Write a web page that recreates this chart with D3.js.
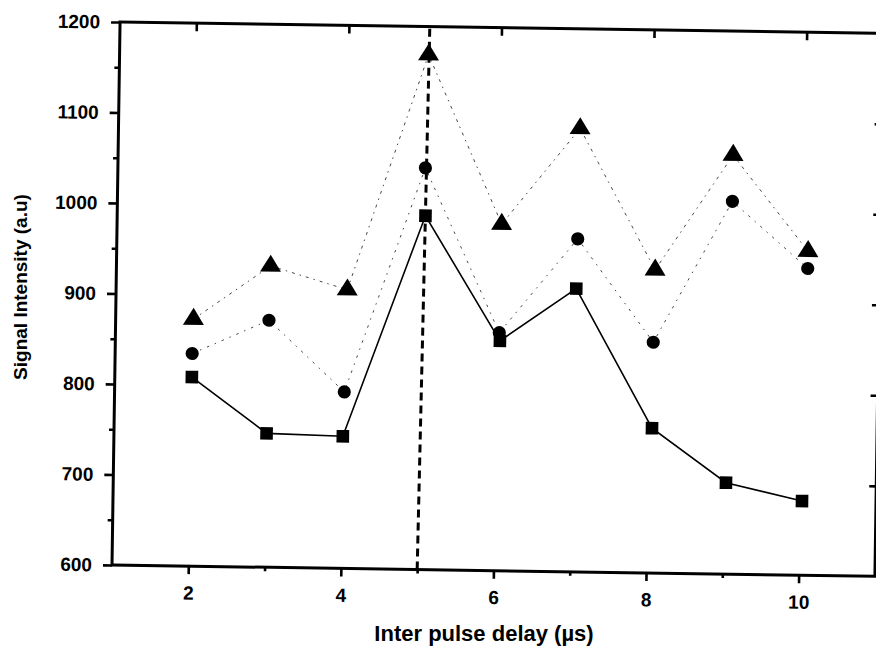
<!DOCTYPE html>
<html>
<head>
<meta charset="utf-8">
<script src="https://cdn.jsdelivr.net/npm/d3@7"></script>
<style>
  html, body { margin: 0; padding: 0; background: #fff; }
  svg { display: block; }
  text { font-family: "Liberation Sans", Arial, sans-serif; fill: #000; }
</style>
</head>
<body>
<svg id="chart" width="876" height="654"></svg>
<script>
// Inter pulse delay (µs) vs signal intensity for three emission lines
const squareX   = [2.01, 3.00, 4.00, 5.04, 6.04, 7.03, 8.05, 9.03, 10.03];
const squareY   = [809, 748, 746, 991, 854, 913, 760, 701, 682];
const circleX   = [2.01, 3.01, 4.01, 5.03, 6.03, 7.04, 8.05, 9.06, 10.06];
const circleY   = [835, 873, 795, 1044, 863, 968, 855, 1012, 939];
const triangleX = [2.02, 3.02, 4.03, 5.05, 6.04, 7.05, 8.06, 9.06, 10.06];
const triangleY = [873, 933, 908, 1169, 983, 1090, 935, 1063, 958];

// optimum delay marker (dashed guide)
const guideX = [5.00, 5.06];
const guideY = [600, 1200];

const xDomain = [1, 11];
const yDomain = [600, 1200];
const xTicks = [2, 4, 6, 8, 10];
const xMinorTicks = [3, 5, 7, 9];
const yTicks = [600, 700, 800, 900, 1000, 1100, 1200];
const yMinorTicks = [650, 750, 850, 950, 1050, 1150];

const W = 763, H = 543;
const tilt = 0.85;

const svg = d3.select("#chart");
const g = svg.append("g")
  .attr("transform", `translate(112,565) rotate(${tilt}) translate(0,${-H})`);

const x = d3.scaleLinear().domain(xDomain).range([0, W]);
const y = d3.scaleLinear().domain(yDomain).range([H, 0]);

function styleAxis(sel, labelSize) {
  sel.select(".domain").remove();
  sel.selectAll(".tick line").attr("stroke", "#000").attr("stroke-width", 2.6);
  sel.selectAll(".tick text")
    .style("font-size", labelSize + "px")
    .style("font-weight", "bold")
    .attr("fill", "#000");
}

// minor ticks first so majors draw over them
g.append("g").attr("transform", `translate(0,${H})`)
  .call(d3.axisBottom(x).tickValues(xMinorTicks).tickSize(4).tickFormat(""))
  .call(s => styleAxis(s, 0));
g.append("g")
  .call(d3.axisLeft(y).tickValues(yMinorTicks).tickSize(5).tickFormat(""))
  .call(s => styleAxis(s, 0));

g.append("g").attr("transform", `translate(0,${H})`)
  .call(d3.axisBottom(x).tickValues(xTicks).tickSize(8).tickPadding(12).tickFormat(d3.format("d")))
  .call(s => styleAxis(s, 19));
g.append("g")
  .call(d3.axisLeft(y).tickValues(yTicks).tickSize(9).tickPadding(11).tickFormat(d3.format("d")))
  .call(s => styleAxis(s, 19));
g.append("g")
  .call(d3.axisTop(x).tickValues(xTicks).tickSize(-8).tickFormat(""))
  .call(s => styleAxis(s, 0));
g.append("g").attr("transform", `translate(${W},0)`)
  .call(d3.axisRight(y).tickValues(yTicks.slice(1, -1)).tickSize(-7).tickFormat(""))
  .call(s => styleAxis(s, 0));

// frame
g.append("rect")
  .attr("x", 0).attr("y", 0).attr("width", W).attr("height", H)
  .attr("fill", "none").attr("stroke", "#000").attr("stroke-width", 3);

const zip = (xs, ys) => xs.map((v, i) => [v, ys[i]]);
const line = d3.line().x(d => x(d[0])).y(d => y(d[1]));

const squares = zip(squareX, squareY);
const circles = zip(circleX, circleY);
const triangles = zip(triangleX, triangleY);

// connecting lines (faint dash-dot for the upper two series)
g.append("path").datum(triangles).attr("d", line)
  .attr("fill", "none").attr("stroke", "#333").attr("stroke-width", 0.9)
  .attr("stroke-dasharray", "3,5,1.5,5");
g.append("path").datum(circles).attr("d", line)
  .attr("fill", "none").attr("stroke", "#333").attr("stroke-width", 0.9)
  .attr("stroke-dasharray", "2.5,6,1.5,6");
g.append("path").datum(squares).attr("d", line)
  .attr("fill", "none").attr("stroke", "#000").attr("stroke-width", 1.6);

// dashed guide at the optimum delay
g.append("path").datum(zip(guideX, guideY)).attr("d", line)
  .attr("fill", "none").attr("stroke", "#000").attr("stroke-width", 3)
  .attr("stroke-dasharray", "8,5");

// markers
g.append("g").selectAll("rect").data(squares).join("rect")
  .attr("x", d => x(d[0]) - 6.3).attr("y", d => y(d[1]) - 6.3)
  .attr("width", 12.6).attr("height", 12.6)
  .attr("fill", "#000");

g.append("g").selectAll("circle").data(circles).join("circle")
  .attr("cx", d => x(d[0])).attr("cy", d => y(d[1])).attr("r", 6.6)
  .attr("fill", "#000");

const triPath = "M0,-11.3L10.5,5.7L-10.5,5.7Z";
g.append("g").selectAll("path").data(triangles).join("path")
  .attr("transform", d => `translate(${x(d[0])},${y(d[1])})`)
  .attr("d", triPath)
  .attr("fill", "#000");

// axis titles
svg.append("text")
  .attr("x", 484).attr("y", 641)
  .attr("text-anchor", "middle")
  .style("font-size", "22px").style("font-weight", "bold")
  .text("Inter pulse delay (µs)");

svg.append("text")
  .attr("transform", "translate(27,287) rotate(-90)")
  .attr("text-anchor", "middle")
  .style("font-size", "19px").style("font-weight", "bold")
  .text("Signal Intensity (a.u)");
</script>
</body>
</html>
